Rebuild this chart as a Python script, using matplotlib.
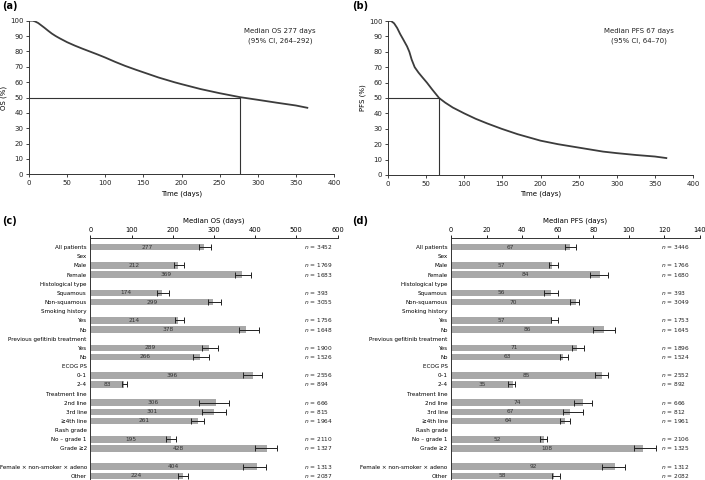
import matplotlib
matplotlib.use('Agg')
import matplotlib.pyplot as plt

# ---- survival curves ----
os_days = [0, 5, 8, 12, 16, 20, 25, 30, 35, 40, 50, 60, 70, 80, 90, 100, 113, 126, 140,
           150, 170, 191, 200, 225, 250, 277, 300, 325, 350, 365]
os_pct = [100, 100, 99.5, 98.5, 97, 95.5, 93.5, 91.6, 90, 88.6, 86, 83.8, 81.8, 79.9, 78,
          76, 73.2, 70.6, 68.1, 66.4, 63, 59.9, 58.7, 55.5, 52.8, 50.2, 48.5, 46.6, 44.8, 43.3]
pfs_days = [0, 4, 8, 12, 16, 20, 25, 28, 31, 35, 40, 45, 51, 58, 67, 75, 85, 100, 115, 130,
            149, 170, 200, 223, 250, 282, 300, 325, 350, 365]
pfs_pct = [100, 100, 98.5, 95.5, 91.5, 88, 83.5, 80, 75, 70, 66.5, 63.5, 60, 55.5, 50, 47,
           43.8, 40, 36.5, 33.5, 30, 26.5, 22.3, 20, 17.8, 15.2, 14.2, 13, 12, 11]
os_median = 277
pfs_median = 67

# ---- subgroup bars ----
labels = ["All patients", "Sex", "Male", "Female", "Histological type", "Squamous",
          "Non-squamous", "Smoking history", "Yes", "No", "Previous gefitinib treatment",
          "Yes", "No", "ECOG PS", "0\u20131", "2\u20134", "Treatment line", "2nd line",
          "3rd line", "\u22654th line", "Rash grade", "No \u2013 grade 1", "Grade \u22652", "",
          "Female \u00d7 non-smoker \u00d7 adeno", "Other"]
os_val = [277, None, 212, 369, None, 174, 299, None, 214, 378, None, 289, 266, None, 396, 83,
          None, 306, 301, 261, None, 195, 428, None, 404, 224]
os_lo = [264, None, 202, 351, None, 161, 285, None, 205, 360, None, 272, 250, None, 371, 76,
         None, 265, 270, 244, None, 183, 399, None, 370, 212]
os_hi = [292, None, 227, 389, None, 192, 318, None, 228, 410, None, 311, 288, None, 416, 90,
         None, 337, 329, 277, None, 207, 452, None, 427, 238]
os_n = [3452, None, 1769, 1683, None, 393, 3055, None, 1756, 1648, None, 1900, 1526, None,
        2556, 894, None, 666, 815, 1964, None, 2110, 1327, None, 1313, 2087]
pfs_val = [67, None, 57, 84, None, 56, 70, None, 57, 86, None, 71, 63, None, 85, 35,
           None, 74, 67, 64, None, 52, 108, None, 92, 58]
pfs_lo = [64, None, 55, 78, None, 52, 67, None, 56, 80, None, 68, 61, None, 81, 32,
          None, 69, 63, 61, None, 50, 103, None, 85, 57]
pfs_hi = [70, None, 60, 88, None, 60, 72, None, 60, 92, None, 75, 66, None, 88, 36,
          None, 79, 74, 67, None, 54, 115, None, 98, 61]
pfs_n = [3446, None, 1766, 1680, None, 393, 3049, None, 1753, 1645, None, 1896, 1524, None,
         2552, 892, None, 666, 812, 1961, None, 2106, 1325, None, 1312, 2082]

plt.rcParams['font.family'] = ['DejaVu Sans']
W, H = 705, 480
fig = plt.figure(figsize=(W / 100, H / 100), dpi=100)

def fx(px):
    return px / W

def fy(py):
    return 1 - py / H

dark = '#333333'

def km_panel(rect, days, pct, median, ylab, txt1, txt2):
    ax = fig.add_axes(rect)
    ax.plot(days, pct, color='#3c3c3c', lw=1.3, solid_joinstyle='round')
    ax.plot([0, median], [50, 50], color=dark, lw=0.8)
    ax.plot([median, median], [0, 50], color=dark, lw=0.8)
    ax.set_xlim(0, 400)
    ax.set_ylim(0, 100)
    ax.set_xticks(range(0, 401, 50))
    ax.set_yticks(range(0, 101, 10))
    for s in ['top', 'right']:
        ax.spines[s].set_visible(False)
    for s in ['left', 'bottom']:
        ax.spines[s].set_linewidth(0.7)
        ax.spines[s].set_color(dark)
    ax.tick_params(labelsize=5, length=2.5, width=0.6, pad=1.5, colors='#222222')
    ax.set_xlabel('Time (days)', fontsize=5, labelpad=3)
    ax.set_ylabel(ylab, fontsize=5, labelpad=2)
    ax.text(329, 90, txt1 + '\n' + txt2, fontsize=5, ha='center', va='center',
            linespacing=1.7, color='#222222')
    return ax

km_panel([fx(29), fy(174.3), fx(305), (174.3 - 20.7) / H], os_days, os_pct, os_median,
         'OS (%)', 'Median OS 277 days', '(95% CI, 264\u2013292)')
km_panel([fx(388), fy(175), fx(305), (175 - 21) / H], pfs_days, pfs_pct, pfs_median,
         'PFS (%)', 'Median PFS 67 days', '(95% CI, 64\u201370)')
fig.text(fx(2), fy(6), '(a)', fontsize=7, fontweight='bold', va='center', ha='left')
fig.text(fx(352), fy(6), '(b)', fontsize=7, fontweight='bold', va='center', ha='left')

def bar_panel(rect, vals, lo, hi, ns, xmax, xstep, title, nx, tag, tagx):
    ax = fig.add_axes(rect)
    idx = list(range(len(labels)))
    for i in idx:
        v = vals[i]
        if v is None:
            continue
        ax.barh(i, v, height=0.72, color='#a8a8a8', edgecolor='none')
        ax.errorbar(v, i, xerr=[[v - lo[i]], [hi[i] - v]], fmt='none', ecolor='#222222',
                    elinewidth=0.7, capsize=2.0, capthick=0.7)
        ax.text(v / 2, i, str(v), fontsize=4.2, ha='center', va='center', color='#333333')
        ax.text(nx, i, '$n$ = %d' % ns[i], fontsize=4.2, ha='left', va='center',
                color='#222222')
    ax.set_ylim(25.45, -0.95)
    ax.set_xlim(0, xmax)
    ax.set_yticks(idx)
    ax.set_yticklabels(labels, fontsize=4.05)
    ax.tick_params(axis='y', length=0, pad=2.5)
    ax.xaxis.tick_top()
    ax.xaxis.set_label_position('top')
    ax.set_xticks(range(0, xmax + 1, xstep))
    ax.tick_params(axis='x', labelsize=4.8, length=2.5, width=0.6, pad=1.5)
    ax.set_xlabel(title, fontsize=5, labelpad=3)
    for s in ['bottom', 'right']:
        ax.spines[s].set_visible(False)
    for s in ['left', 'top']:
        ax.spines[s].set_linewidth(0.7)
        ax.spines[s].set_color(dark)
    fig.text(fx(tagx), fy(221), tag, fontsize=7, fontweight='bold', va='center', ha='left')
    return ax

top_px = 238.5
bar_panel([fx(90.3), 0, fx(247.2), (H - top_px) / H], os_val, os_lo, os_hi, os_n,
          600, 100, 'Median OS (days)', 519, '(c)', 2)
bar_panel([fx(451.1), 0, fx(248.9), (H - top_px) / H], pfs_val, pfs_lo, pfs_hi, pfs_n,
          140, 20, 'Median PFS (days)', 118, '(d)', 352)

fig.savefig('out.png', dpi=100)
